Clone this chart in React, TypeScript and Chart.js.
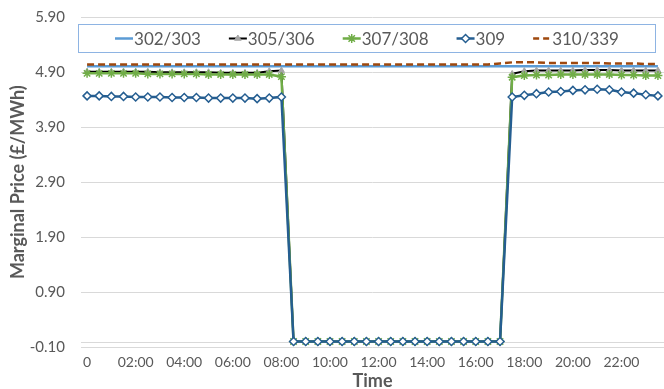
import React, { useEffect, useRef } from 'react';
import { Chart, registerables } from 'chart.js';

Chart.register(...registerables);

const FONT = 'Lato, "Open Sans", "Liberation Sans", sans-serif';
const GREY_TEXT = '#595959';
const GRID = '#D9D9D9';

const timeLabels = [
  '0', '00:30', '01:00', '01:30', '02:00', '02:30', '03:00', '03:30',
  '04:00', '04:30', '05:00', '05:30', '06:00', '06:30', '07:00', '07:30',
  '08:00', '08:30', '09:00', '09:30', '10:00', '10:30', '11:00', '11:30',
  '12:00', '12:30', '13:00', '13:30', '14:00', '14:30', '15:00', '15:30',
  '16:00', '16:30', '17:00', '17:30', '18:00', '18:30', '19:00', '19:30',
  '20:00', '20:30', '21:00', '21:30', '22:00', '22:30', '23:00', '23:30',
];

const yTickMin = -0.1;
const yTickMax = 5.9;
const yTickStep = 1;

const s302 = [
  5.01, 5.01, 5.01, 5.01, 5.01, 5.01, 5.01, 5.01, 5.01, 5.01, 5.01, 5.01,
  5.01, 5.01, 5.01, 5.01, 5.01, 5.01, 5.01, 5.01, 5.01, 5.01, 5.01, 5.01,
  5.01, 5.01, 5.01, 5.01, 5.01, 5.01, 5.01, 5.01, 5.01, 5.01, 5.01, 5.01,
  5.01, 5.01, 5.01, 5.01, 5.01, 5.01, 5.01, 5.01, 5.01, 5.01, 5.01, 5.01,
];

const s305 = [
  4.91, 4.91, 4.91, 4.91, 4.91, 4.91, 4.90, 4.90, 4.90, 4.90, 4.90, 4.89,
  4.89, 4.89, 4.89, 4.92, 4.93, 0, 0, 0, 0, 0, 0, 0,
  0, 0, 0, 0, 0, 0, 0, 0, 0, 0, 0, 4.87,
  4.92, 4.93, 4.93, 4.93, 4.93, 4.94, 4.94, 4.94, 4.93, 4.93, 4.93, 4.93,
];

const s307 = [
  4.88, 4.88, 4.88, 4.88, 4.88, 4.87, 4.87, 4.87, 4.87, 4.87, 4.86, 4.86,
  4.86, 4.86, 4.86, 4.86, 4.82, 0, 0, 0, 0, 0, 0, 0,
  0, 0, 0, 0, 0, 0, 0, 0, 0, 0, 0, 4.81,
  4.84, 4.85, 4.85, 4.86, 4.86, 4.86, 4.86, 4.86, 4.85, 4.85, 4.84, 4.84,
];

const s309 = [
  4.47, 4.47, 4.46, 4.46, 4.45, 4.45, 4.45, 4.44, 4.44, 4.44, 4.43, 4.43,
  4.43, 4.43, 4.42, 4.43, 4.45, 0, 0, 0, 0, 0, 0, 0,
  0, 0, 0, 0, 0, 0, 0, 0, 0, 0, 0, 4.45,
  4.48, 4.51, 4.54, 4.55, 4.57, 4.58, 4.59, 4.58, 4.54, 4.52, 4.49, 4.47,
];

const s310 = [
  5.04, 5.04, 5.04, 5.04, 5.04, 5.04, 5.04, 5.04, 5.04, 5.04, 5.04, 5.04,
  5.04, 5.04, 5.04, 5.04, 5.04, 5.04, 5.04, 5.04, 5.04, 5.04, 5.04, 5.04,
  5.04, 5.04, 5.04, 5.04, 5.04, 5.04, 5.04, 5.04, 5.04, 5.04, 5.06, 5.08,
  5.08, 5.08, 5.07, 5.07, 5.07, 5.07, 5.07, 5.06, 5.06, 5.06, 5.05, 5.05,
];

function drawMarker(ctx: CanvasRenderingContext2D, style: string, x: number, y: number, r: number, fill: string, stroke: string, bw: number) {
  if (!style || !r) return;
  ctx.save();
  ctx.setLineDash([]);
  ctx.fillStyle = fill;
  ctx.strokeStyle = stroke;
  ctx.lineWidth = bw;
  ctx.beginPath();
  if (style === 'triangle') {
    const h = r * 1.5;
    const s = r * 0.95;
    ctx.moveTo(x, y - r);
    ctx.lineTo(x + s, y + h - r);
    ctx.lineTo(x - s, y + h - r);
    ctx.closePath();
    ctx.fill();
    ctx.stroke();
  } else if (style === 'rectRot') {
    ctx.moveTo(x - r, y);
    ctx.lineTo(x, y - r);
    ctx.lineTo(x + r, y);
    ctx.lineTo(x, y + r);
    ctx.closePath();
    ctx.fill();
    ctx.stroke();
  } else if (style === 'star') {
    for (let i = 0; i < 4; i++) {
      const a = (i * Math.PI) / 4;
      ctx.moveTo(x - Math.cos(a) * r, y - Math.sin(a) * r);
      ctx.lineTo(x + Math.cos(a) * r, y + Math.sin(a) * r);
    }
    ctx.stroke();
  }
  ctx.restore();
}

const boxLegend = {
  id: 'boxLegend',
  afterDraw(chart: any) {
    const ctx: CanvasRenderingContext2D = chart.ctx;
    const left = 78.5, top = 24.5, right = 655.5, bottom = 52.5;
    ctx.save();
    ctx.fillStyle = '#FFFFFF';
    ctx.fillRect(left, top, right - left, bottom - top);
    ctx.strokeStyle = '#8EB4E3';
    ctx.lineWidth = 1;
    ctx.strokeRect(left, top, right - left, bottom - top);
    ctx.font = `17px ${FONT}`;
    const sample = 18;
    const items = chart.data.datasets.map((ds: any) => ({ ds, w: sample + 1 + ctx.measureText(ds.label).width }));
    const gap = 28;
    const total = items.reduce((a: number, it: any) => a + it.w, 0) + gap * (items.length - 1);
    let x = (left + right) / 2 - total / 2;
    const cy = (top + bottom) / 2;
    items.forEach(({ ds, w }: any) => {
      ctx.save();
      ctx.strokeStyle = ds.borderColor;
      ctx.lineWidth = ds.borderWidth;
      ctx.setLineDash(ds.borderDash ? [6, 4] : []);
      ctx.beginPath();
      ctx.moveTo(x, cy);
      ctx.lineTo(x + sample, cy);
      ctx.stroke();
      ctx.restore();
      drawMarker(ctx, ds.pointStyle, x + sample / 2, cy, ds.pointRadius, ds.pointBackgroundColor, ds.pointBorderColor, ds.pointBorderWidth);
      ctx.fillStyle = GREY_TEXT;
      ctx.textAlign = 'left';
      ctx.textBaseline = 'middle';
      ctx.fillText(ds.label, x + sample + 1, cy + 1);
      x += w + gap;
    });
    ctx.restore();
  },
};

const zeroLine = {
  id: 'zeroLine',
  beforeDatasetsDraw(chart: any) {
    const { ctx, chartArea, scales } = chart;
    const y = Math.round(scales.y.getPixelForValue(0)) + 0.5;
    ctx.save();
    ctx.strokeStyle = GRID;
    ctx.lineWidth = 1;
    ctx.beginPath();
    ctx.moveTo(chartArea.left, y);
    ctx.lineTo(chartArea.right, y);
    ctx.stroke();
    ctx.restore();
  },
};

export default function App() {
  const ref = useRef<HTMLCanvasElement>(null);
  useEffect(() => {
    document.body.style.margin = '0';
    document.body.style.overflow = 'hidden';
    const canvas = ref.current;
    if (!canvas) return;
    const chart = new Chart(canvas, {
      type: 'line',
      data: {
        labels: timeLabels,
        datasets: [
          { label: '302/303', data: s302, borderColor: '#5B9BD5', backgroundColor: '#5B9BD5', borderWidth: 2.5, pointRadius: 0, order: 5 },
          { label: '305/306', data: s305, borderColor: '#000000', backgroundColor: '#A5A5A5', borderWidth: 2, pointStyle: 'triangle', pointRadius: 3.5, pointBackgroundColor: '#A5A5A5', pointBorderColor: '#A5A5A5', pointBorderWidth: 1, order: 4 },
          { label: '307/308', data: s307, borderColor: '#70AD47', backgroundColor: '#70AD47', borderWidth: 2.5, pointStyle: 'star', pointRadius: 4.5, pointBackgroundColor: '#70AD47', pointBorderColor: '#70AD47', pointBorderWidth: 1.5, order: 3 },
          { label: '309', data: s309, borderColor: '#255E91', backgroundColor: '#FFFFFF', borderWidth: 2.5, pointStyle: 'rectRot', pointRadius: 4, pointBackgroundColor: '#FFFFFF', pointBorderColor: '#255E91', pointBorderWidth: 1.5, order: 2 },
          { label: '310/339', data: s310, borderColor: '#9E480E', backgroundColor: '#9E480E', borderWidth: 2.5, borderDash: [7, 4], pointRadius: 0, order: 1 },
        ] as any,
      },
      options: {
        responsive: false,
        animation: false,
        devicePixelRatio: 1,
        layout: { autoPadding: false, padding: { top: 17.3, right: -4, bottom: 0, left: 0 } },
        plugins: { legend: { display: false }, tooltip: { enabled: false } },
        scales: {
          x: {
            type: 'category',
            offset: true,
            grid: { display: false, drawTicks: false },
            border: { display: false },
            ticks: {
              autoSkip: false,
              maxRotation: 0,
              minRotation: 0,
              padding: 7,
              color: GREY_TEXT,
              font: { size: 14, family: FONT },
              callback: function (this: any, val: any, idx: number) {
                return idx % 4 === 0 ? this.getLabelForValue(val) : null;
              },
            },
            title: {
              display: true,
              text: 'Time',
              color: GREY_TEXT,
              font: { size: 18, weight: 'bold', family: FONT, lineHeight: 1 },
              padding: { top: 0, bottom: -1 },
            },
            afterFit: (s: any) => { s.height = 42; s.paddingLeft = 0; s.paddingRight = 0; },
          },
          y: {
            min: yTickMin,
            max: yTickMax,
            grid: { color: GRID, drawTicks: false, lineWidth: 1 },
            border: { display: false },
            ticks: {
              stepSize: yTickStep,
              padding: 16,
              color: GREY_TEXT,
              font: { size: 15, family: FONT },
              callback: (v: any) => Number(v).toFixed(2),
            },
            title: {
              display: true,
              text: 'Marginal Price (£/MWh)',
              color: GREY_TEXT,
              font: { size: 18, weight: 'bold', family: FONT, lineHeight: 1.2 },
              padding: { top: 7, bottom: 0 },
            },
            afterFit: (s: any) => { s.width = 81; s.paddingTop = 0; s.paddingBottom = 0; },
          },
        },
      } as any,
      plugins: [zeroLine, boxLegend],
    });
    return () => chart.destroy();
  }, []);
  return (
    <div style={{ width: 664, height: 389 }}>
      <canvas ref={ref} width={664} height={389} style={{ display: 'block' }} />
    </div>
  );
}
